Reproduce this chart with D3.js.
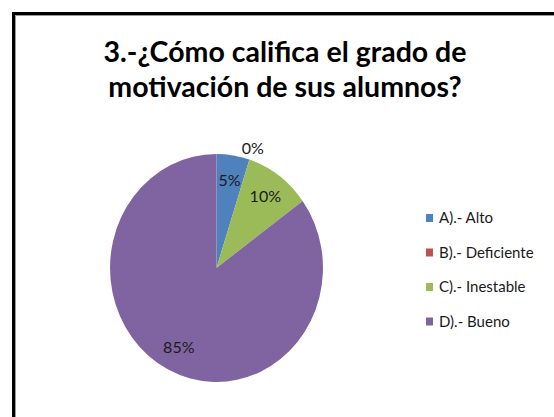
<!DOCTYPE html>
<html>
<head>
<meta charset="utf-8">
<script src="https://cdn.jsdelivr.net/npm/d3@7"></script>
<style>
  html, body { margin: 0; padding: 0; background: #fff; }
  svg { display: block; }
</style>
</head>
<body>
<div id="chart"></div>
<script>
const categories = ['A).- Alto', 'B).- Deficiente', 'C).- Inestable', 'D).- Bueno'];
const values = [5, 0, 10, 85];
const colors = ['#4F81BD', '#C0504D', '#9BBB59', '#8064A2'];
const titleLines = ['3.-¿Cómo califica el grado de', 'motivación de sus alumnos?'];

const width = 554;
const height = 417;
const radius = 114;

const svg = d3
  .select('#chart')
  .append('svg')
  .attr('width', width)
  .attr('height', height);

svg.append('rect').attr('width', width).attr('height', height).attr('fill', '#fff');

// frame (left and top edges only are visible in the crop)
svg.append('path')
  .attr('d', `M13.5,${height} V13.5 H${width}`)
  .attr('fill', 'none')
  .attr('stroke', '#000')
  .attr('stroke-width', 3);
svg.append('path')
  .attr('d', `M15.5,${height} V15.5 H${width}`)
  .attr('fill', 'none')
  .attr('stroke', '#999')
  .attr('stroke-width', 1);

// title
svg.append('text')
  .attr('x', 285)
  .attr('text-anchor', 'middle')
  .style('font-family', 'Lato, sans-serif')
  .style('font-weight', 'bold')
  .style('font-size', '28.5px')
  .attr('fill', '#000')
  .selectAll('tspan')
  .data(titleLines)
  .join('tspan')
  .attr('x', 285)
  .attr('y', (d, i) => 62 + i * 35)
  .text(d => d);

const colorScale = d3.scaleOrdinal().domain(categories).range(colors);

const pie = d3.pie().sort(null).value(d => d.value);
const arcs = pie(categories.map((c, i) => ({ name: c, value: values[i] })));

const arc = d3.arc().innerRadius(0).outerRadius(radius);
const labelArc = d3.arc().innerRadius(radius * 0.78).outerRadius(radius * 0.78);
const outerArc = d3.arc().innerRadius(radius * 1.1).outerRadius(radius * 1.1);

// the pie in the picture is slightly squashed horizontally
const pieG = svg.append('g').attr('transform', 'translate(216.5,268) scale(0.934,1)');

pieG.selectAll('path.slice')
  .data(arcs)
  .join('path')
  .attr('class', 'slice')
  .attr('d', arc)
  .attr('fill', d => colorScale(d.data.name));

const labelG = svg.append('g').attr('transform', 'translate(216.5,268)');
labelG.selectAll('text.pct')
  .data(arcs)
  .join('text')
  .attr('class', 'pct')
  .attr('x', d => (d.data.value === 0 ? outerArc : labelArc).centroid(d)[0] * 0.934)
  .attr('y', d => (d.data.value === 0 ? outerArc : labelArc).centroid(d)[1])
  .attr('dy', '0.35em')
  .attr('text-anchor', 'middle')
  .style('font-family', 'Lato, sans-serif')
  .style('font-size', '16px')
  .attr('fill', '#1a1a1a')
  .text(d => d.data.value + '%');

// legend
const legend = svg.append('g').attr('transform', 'translate(426,214)');
const items = legend.selectAll('g.item')
  .data(categories)
  .join('g')
  .attr('class', 'item')
  .attr('transform', (d, i) => `translate(0,${i * 34.5})`);
items.append('rect')
  .attr('width', 7)
  .attr('height', 8)
  .attr('fill', d => colorScale(d));
items.append('text')
  .attr('x', 13)
  .attr('y', 9)
  .style('font-family', 'Lato, sans-serif')
  .style('font-size', '15px')
  .attr('fill', '#1a1a1a')
  .text(d => d);
</script>
</body>
</html>
